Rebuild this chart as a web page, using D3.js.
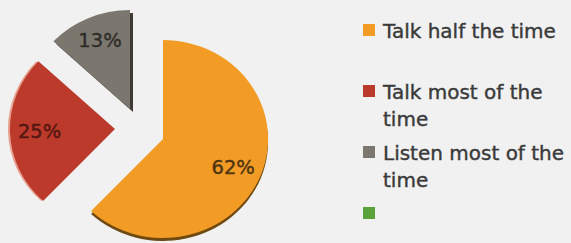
<!DOCTYPE html>
<html>
<head>
<meta charset="utf-8">
<script src="https://cdn.jsdelivr.net/npm/d3@7"></script>
<style>
  body { margin: 0; background: #f1f1f1; }
  svg { display: block; }
</style>
</head>
<body>
<script>
var categories = ["Talk half the time", "Talk most of the time", "Listen most of the time", ""];
var values = [62, 25, 13, 0];
var labels = ["62%", "25%", "13%", ""];
var legendLines = [["Talk half the time"], ["Talk most of the", "time"], ["Listen most of the", "time"], [""]];

var colours = ["#f29b25", "#bb3a2b", "#7b776e", "#5aa33c"];
var rims = ["#6e4a12", "#e8a090", "#3e3b36", "#3d7a28"];
var rimShift = [[0, 3], [-2, 0], [3, 3], [0, 0]];
var labelColours = ["#4e3412", "#541610", "#2e2c2a", "#333"];
// pulled-out slices, shifted from the pie centre
var explode = [[0, 0], [-48, -10], [-33, -30], [0, 0]];

var width = 571, height = 243;
var cx = 163, cy = 139, radius = 102;

var svg = d3.select("body").append("svg")
  .attr("width", width)
  .attr("height", height);

svg.append("rect")
  .attr("width", width)
  .attr("height", height)
  .style("fill", "#f1f1f1");

var data = categories.map((c, i) => ({ name: c, value: values[i], label: labels[i], i: i }));

var pie = d3.pie()
  .sort(null)
  .value(d => d.value);

var arcs = pie(data).filter(d => d.data.value > 0);

var arc = d3.arc()
  .innerRadius(0)
  .outerRadius(radius);

var labelArc = d3.arc()
  .innerRadius(radius * 0.74)
  .outerRadius(radius * 0.74);

var g = svg.append("g")
  .attr("transform", `translate(${cx},${cy})`);

var slices = g.selectAll("g.slice")
  .data(arcs)
  .enter()
  .append("g")
  .attr("class", "slice")
  .attr("transform", d => `translate(${explode[d.data.i][0]},${explode[d.data.i][1]})`);

// thin darker rim to fake the 3D edge
slices.append("path")
  .attr("d", arc)
  .attr("transform", d => `translate(${rimShift[d.data.i][0]},${rimShift[d.data.i][1]}) scale(1.03,0.97)`)
  .style("fill", d => rims[d.data.i])
  .style("filter", "blur(0.6px)");

slices.append("path")
  .attr("d", arc)
  .attr("transform", "scale(1.03,0.97)")
  .style("fill", d => colours[d.data.i]);

slices.append("text")
  .attr("transform", d => `translate(${labelArc.centroid(d)})`)
  .attr("dy", "0.36em")
  .style("text-anchor", "middle")
  .style("font-family", "DejaVu Sans")
  .style("font-size", "19.5px")
  .style("fill", d => labelColours[d.data.i])
  .style("stroke", d => labelColours[d.data.i])
  .style("stroke-width", 0.4)
  .text(d => d.data.label);

// legend
var legend = svg.selectAll("g.legend")
  .data(data)
  .enter()
  .append("g")
  .attr("class", "legend")
  .attr("transform", (d, i) => `translate(363,${30 + i * 61})`);

legend.append("rect")
  .attr("x", 0)
  .attr("y", -6)
  .attr("width", 12)
  .attr("height", 12)
  .style("fill", d => colours[d.i]);

legend.selectAll("text")
  .data(d => legendLines[d.i])
  .enter()
  .append("text")
  .attr("x", 20)
  .attr("y", (d, j) => 7.5 + j * 27.5)
  .style("font-family", "DejaVu Sans")
  .style("font-size", "20px")
  .style("fill", "#3a3a3a")
  .style("stroke", "#3a3a3a")
  .style("stroke-width", 0.4)
  .text(d => d);
</script>
</body>
</html>
